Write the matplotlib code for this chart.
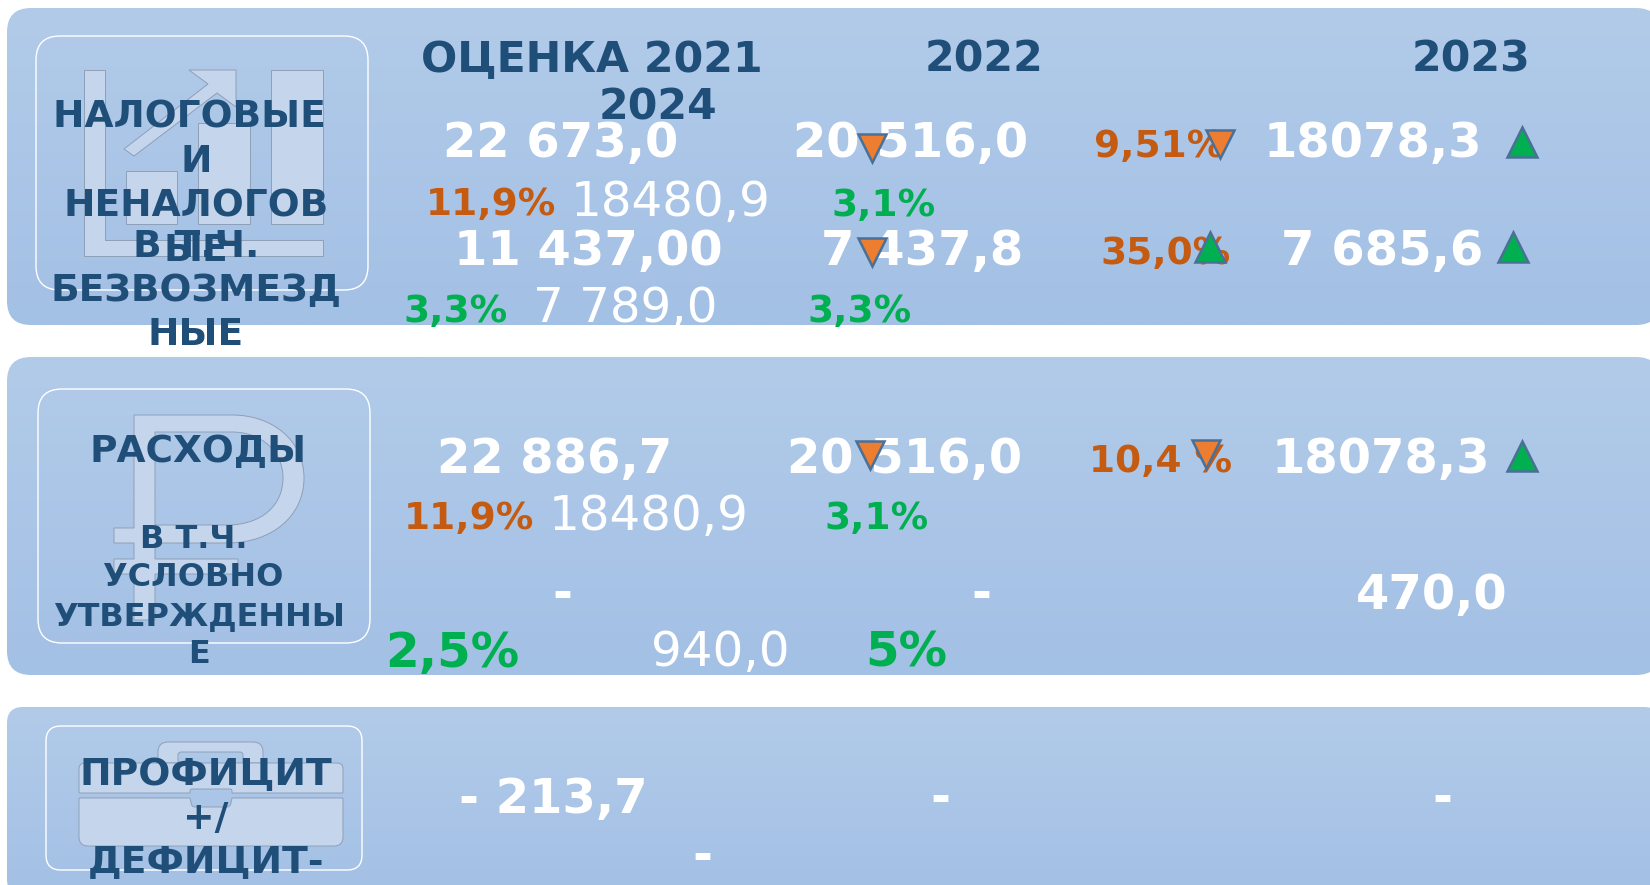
import numpy as np
import matplotlib
matplotlib.use('Agg')
import matplotlib.pyplot as plt
from matplotlib.patches import FancyBboxPatch, PathPatch, Polygon, Rectangle
from matplotlib.path import Path

# Datos
encabezados = ['ОЦЕНКА 2021', '2022', '2023', '2024']
etiquetas = ['НАЛОГОВЫЕ \nИ\nНЕНАЛОГОВ\nЫЕ', 'В Т.Ч.\nБЕЗВОЗМЕЗД\nНЫЕ', 'РАСХОДЫ',
             'В Т.Ч. \nУСЛОВНО \nУТВЕРЖДЕННЫ\nЕ', 'ПРОФИЦИТ\n+/\nДЕФИЦИТ-']
valores_fuertes = ['22 673,0', '20 516,0', '18078,3', '11 437,00', '7 437,8', '7 685,6',
                   '22 886,7', '20 516,0', '18078,3', '-', '-', '470,0',
                   '- 213,7', '-', '-', '-']
valores_2024 = ['18480,9', '7 789,0', '18480,9', '940,0']
pct_naranja = ['9,51%', '11,9%', '35,0%', '10,4 %', '11,9%']
pct_verde = ['3,1%', '3,3%', '3,3%', '3,1%']
pct_verde_grande = ['2,5%', '5%']
flechas = ['v', 'v', '^', 'v', '^', '^', 'v', 'v', '^']

# Colores
AZUL = '#1F4E79'
NARANJA = '#C55A11'
VERDE = '#00B050'
ICONO = '#C5D6EC'
BORDE_ICONO = '#8E9FB8'

# Posiciones en pixeles
pos_encabezados = [(592, 60), (984, 60), (1471, 60), (658, 107)]
pos_etiquetas = [(196, 184, 27), (196, 291, 27), (198, 452, 27), (199, 597, 23), (205.5, 819, 27.2)]
pos_fuertes = [(561, 144), (911, 144), (1373, 144), (588, 251), (922, 251), (1382, 251),
               (555, 459), (905, 459), (1381, 459), (562, 595), (981, 595), (1432, 596),
               (553, 799), (940, 799), (1442, 799), (702, 857)]
pos_2024 = [(671, 202), (625, 309), (649, 517), (720, 653)]
pos_naranja = [(1159, 147), (491, 205), (1166, 254), (1161, 462), (469, 519)]
pos_verde = [(884, 206), (456, 312), (860, 312), (877, 519)]
pos_verde_grande = [(452, 653), (906, 653)]
pos_flechas = [(872, 148), (1220, 144), (1522, 142), (872, 252), (1210, 247), (1513, 247),
               (870, 455), (1206, 454), (1522, 456)]


def redondear(puntos, radios):
    # Poligono con un radio de suavizado por esquina
    verts, cods = [], []
    n = len(puntos)
    for i in range(n):
        p = np.array(puntos[i], dtype=float)
        a = np.array(puntos[i - 1], dtype=float)
        b = np.array(puntos[(i + 1) % n], dtype=float)
        r = radios[i]
        ini = p + (a - p) / np.linalg.norm(a - p) * min(r, np.linalg.norm(a - p) / 2)
        fin = p + (b - p) / np.linalg.norm(b - p) * min(r, np.linalg.norm(b - p) / 2)
        verts.append(ini)
        cods.append(Path.MOVETO if i == 0 else Path.LINETO)
        verts += [p, fin]
        cods += [Path.CURVE3, Path.CURVE3]
    verts.append(verts[0])
    cods.append(Path.CLOSEPOLY)
    return Path(verts, cods)


fig = plt.figure(figsize=(16.5, 8.85), dpi=100)
ax = fig.add_axes([0, 0, 1, 1])
ax.set_xlim(0, 1650)
ax.set_ylim(885, 0)
ax.axis('off')

# Paneles con degradado
gradiente = np.linspace(0, 1, 256).reshape(-1, 1)
cmap = matplotlib.colors.LinearSegmentedColormap.from_list('panel', ['#B2CBE9', '#A3C0E5'])
for x0, y0, x1, y1, r in [(7, 8, 1660, 325, 24), (7, 357, 1660, 675, 24), (7, 707, 1660, 895, 16)]:
    caja = FancyBboxPatch((x0 + r, y0 + r), x1 - x0 - 2 * r, y1 - y0 - 2 * r,
                          boxstyle=f'round,pad={r},rounding_size={r}', fc='none', ec='none')
    ax.add_patch(caja)
    im = ax.imshow(gradiente, extent=(x0, x1, y1, y0), cmap=cmap, aspect='auto', zorder=1)
    im.set_clip_path(caja)
ax.set_xlim(0, 1650)
ax.set_ylim(885, 0)

# Cajas blancas interiores
for x0, y0, x1, y1, r in [(36, 36, 368, 290, 24), (38, 389, 370, 643, 24), (46, 726, 362, 870, 15)]:
    ax.add_patch(FancyBboxPatch((x0 + r, y0 + r), x1 - x0 - 2 * r, y1 - y0 - 2 * r,
                                boxstyle=f'round,pad={r},rounding_size={r}',
                                fc='none', ec='white', lw=1, zorder=2))

estilo_icono = dict(fc=ICONO, ec=BORDE_ICONO, lw=0.7, zorder=2)

# Icono de barras
ax.add_patch(Polygon([(84, 70), (105, 70), (105, 240), (323, 240), (323, 256), (84, 256)], **estilo_icono))
for x0, y0, x1, y1 in [(126, 171, 177, 224), (198, 123, 250, 224), (271, 70, 323, 224)]:
    ax.add_patch(Rectangle((x0, y0), x1 - x0, y1 - y0, **estilo_icono))
ax.add_patch(Polygon([(189, 70), (236, 70), (236, 107), (217, 93), (134, 156), (124, 149), (208, 84)], **estilo_icono))

# Icono del rublo
M, L, C, Z = Path.MOVETO, Path.LINETO, Path.CURVE4, Path.CLOSEPOLY
puntos = [(134, 415), (232, 415), (272, 415), (304, 440), (304, 478), (304, 516), (272, 543), (227, 543),
          (155, 543), (155, 559), (238, 559), (238, 574), (155, 574), (155, 620), (134, 620), (134, 574),
          (114, 574), (114, 559), (134, 559), (134, 543), (114, 543), (114, 528), (134, 528), (134, 415),
          (155, 432), (155, 525), (227, 525), (262, 525), (283, 505), (283, 478), (283, 452), (262, 432), (232, 432),
          (155, 432)]
codigos = [M, L, C, C, C, C, C, C, L, L, L, L, L, L, L, L, L, L, L, L, L, L, L, Z,
           M, L, L, C, C, C, C, C, C, Z]
ax.add_patch(PathPatch(Path(puntos, codigos), **estilo_icono))

# Icono del maletin
ax.add_patch(PathPatch(redondear([(158, 763), (158, 742), (263, 742), (263, 763),
                                  (243, 763), (243, 752), (178, 752), (178, 763)],
                                 [0, 10, 10, 0, 0, 3, 3, 0]), **estilo_icono))
ax.add_patch(PathPatch(redondear([(79, 763), (343, 763), (343, 793), (232, 793), (232, 789),
                                  (190, 789), (190, 793), (79, 793)],
                                 [6, 6, 1, 0, 2, 2, 0, 1]), **estilo_icono))
ax.add_patch(PathPatch(redondear([(79, 798), (190, 798), (192, 807), (230, 807), (232, 798),
                                  (343, 798), (343, 846), (79, 846)],
                                 [1, 0, 3, 3, 0, 1, 9, 9]), **estilo_icono))


# Textos
def texto(x, y, s, color, size, weight='bold', **kw):
    ax.text(x, y, s, color=color, fontsize=size, fontweight=weight, ha='center', va='center',
            family='DejaVu Sans', zorder=3, **kw)


for (x, y), s in zip(pos_encabezados, encabezados):
    texto(x, y, s, AZUL, 30.7)
for (x, y, size), s in zip(pos_etiquetas, etiquetas):
    texto(x, y, s, AZUL, size, linespacing=1.3)
for (x, y), s in zip(pos_fuertes, valores_fuertes):
    texto(x, y, s, 'white', 34.6)
for (x, y), s in zip(pos_2024, valores_2024):
    texto(x, y, s, 'white', 34.8, weight='normal')
for (x, y), s in zip(pos_naranja, pct_naranja):
    texto(x, y, s, NARANJA, 27)
for (x, y), s in zip(pos_verde, pct_verde):
    texto(x, y, s, VERDE, 27)
for (x, y), s in zip(pos_verde_grande, pct_verde_grande):
    texto(x, y, s, VERDE, 34.8)

# Flechas
for (x, y), m in zip(pos_flechas, flechas):
    color = '#ED7D31' if m == 'v' else VERDE
    ax.plot([x], [y], marker=m, ms=20 if m == 'v' else 21.5, mfc=color, mec='#4A7098', mew=1.8,
            ls='none', zorder=4)

fig.savefig('out.png', dpi=100)
